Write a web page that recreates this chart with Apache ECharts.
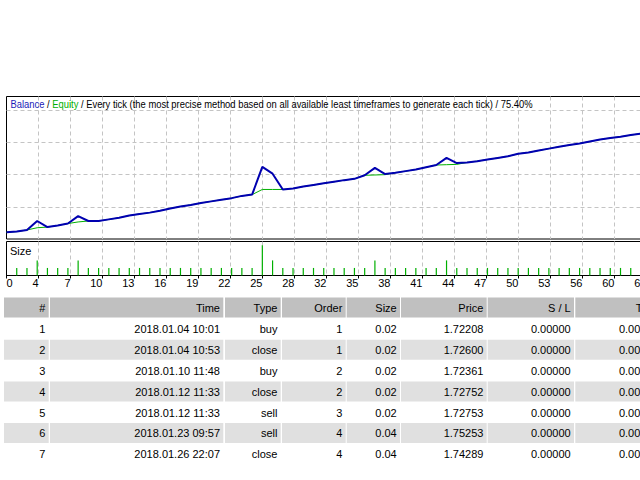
<!DOCTYPE html>
<html><head><meta charset="utf-8">
<script src="https://cdn.jsdelivr.net/npm/echarts@6/dist/echarts.min.js"></script>
<style>html,body{margin:0;padding:0;background:#fff}#c{width:640px;height:480px}</style>
</head><body><div id="c"></div>
<script>
// ---------- data ----------
const xTickLabels = ['0','4','7','10','13','16','19','22','25','28','32','35','38','41','44','47','50','53','56','60','63','66'];
// balance per trade index 0..62
const balance = [
  10021,10023,10028,10056,10037,10042,10048,10071,10056,10056,
  10061,10066,10073,10078,10082,10088,10095,10101,10106,10112,
  10117,10122,10127,10134,10138,10224,10203,10154,10157,10163,
  10168,10173,10178,10183,10187,10198,10221,10202,10206,10211,
  10216,10223,10230,10252,10236,10238,10242,10247,10252,10257,
  10265,10269,10275,10281,10287,10292,10297,10303,10309,10314,
  10318,10323,10328
];
// equity per trade index 0..62
const equity = [
  10021,10023,10028,10035,10037,10042,10048,10053,10056,10056,
  10061,10066,10073,10078,10082,10088,10095,10101,10106,10112,
  10117,10122,10127,10134,10138,10154,10154,10154,10157,10163,
  10168,10173,10178,10183,10187,10198,10199,10200,10206,10211,
  10216,10223,10230,10231,10232,10238,10242,10247,10252,10257,
  10265,10269,10275,10281,10287,10292,10297,10303,10309,10314,
  10318,10323,10328
];
// lot size per trade index 1..61
const tradeSizes = [
  0.02,0.02,0.04,0.02,0.02,0.02,0.04,0.02,0.02,0.02,
  0.02,0.02,0.02,0.02,0.02,0.02,0.02,0.02,0.02,0.02,
  0.02,0.02,0.02,0.02,0.08,0.04,0.02,0.02,0.02,0.02,
  0.02,0.02,0.02,0.02,0.02,0.04,0.02,0.02,0.02,0.02,
  0.02,0.02,0.04,0.02,0.02,0.02,0.02,0.02,0.02,0.02,
  0.02,0.02,0.02,0.02,0.02,0.02,0.02,0.02,0.02,0.02,
  0.02
];
const tableHeaders = ['#','Time','Type','Order','Size','Price','S / L','T / P'];
const dealNo = [1,2,3,4,5,6,7];
const dealTime = ['2018.01.04 10:01','2018.01.04 10:53','2018.01.10 11:48','2018.01.12 11:33','2018.01.12 11:33','2018.01.23 09:57','2018.01.26 22:07'];
const dealType = ['buy','close','buy','close','sell','sell','close'];
const dealOrder = [1,1,2,2,3,4,4];
const dealSize = ['0.02','0.02','0.02','0.02','0.02','0.04','0.04'];
const dealPrice = ['1.72208','1.72600','1.72361','1.72752','1.72753','1.75253','1.74289'];
const dealSL = ['0.00000','0.00000','0.00000','0.00000','0.00000','0.00000','0.00000'];
const dealTP = ['0.00000','0.00000','0.00000','0.00000','0.00000','0.00000','0.00000'];
const titleText = '{b|Balance} / {g|Equity} / Every tick (the most precise method based on all available least timeframes to generate each tick) / 75.40%';

// ---------- layout ----------
const FONT = '"Liberation Sans", Arial, sans-serif';
const X_INTERVAL = 3.127;
const PX_PER_TRADE = 32 / X_INTERVAL;
const GRID_LEFT = 6.5, PLOT_W = 680;
const xMax = PLOT_W / PX_PER_TRADE;
const BLUE = '#0000B0', GREEN = '#00B000';
const dash = {color: '#c4c4c4', width: 1, type: [4, 3]};

const colStart = [4, 50, 225, 282, 346.7, 401, 487.7, 575.3];
const colEnd   = [48.7, 223.3, 280.7, 345.7, 400, 486.7, 574, 662];
const HEADER_TOP = 297.5, ROW_TOP = 319, ROW_PITCH = 20.8, ROW_H = 20;

const graphics = [];
function cellText(txt, c, yMid) {
  graphics.push({type: 'text', x: colEnd[c] - 3.3, y: yMid, silent: true,
    style: {text: txt, fill: '#000', font: '11px ' + FONT,
      align: 'right', textAlign: 'right', verticalAlign: 'middle', textVerticalAlign: 'middle'}});
}
function cellRect(c, top, color) {
  graphics.push({type: 'rect', silent: true,
    shape: {x: colStart[c], y: top, width: colEnd[c] - colStart[c], height: ROW_H},
    style: {fill: color}});
}
tableHeaders.forEach((h, c) => { cellRect(c, HEADER_TOP, '#c0c0c0'); cellText(h, c, HEADER_TOP + 10.5); });
dealNo.forEach((n, r) => {
  const top = ROW_TOP + r * ROW_PITCH;
  const vals = [String(n), dealTime[r], dealType[r], String(dealOrder[r]), dealSize[r], dealPrice[r], dealSL[r], dealTP[r]];
  vals.forEach((v, c) => { if (r % 2 === 1) cellRect(c, top, '#e0e0e0'); cellText(v, c, top + 10.3); });
});
graphics.push({type: 'text', x: 10, y: 250.5, silent: true,
  style: {text: 'Size', fill: '#000', font: '11px ' + FONT, verticalAlign: 'middle', textVerticalAlign: 'middle'}});
// chart caption (Tahoma-like narrow set width)
graphics.push({type: 'text', x: 10.5, y: 104.5, scaleX: 0.855, silent: true, z: 10,
  style: {text: titleText, fill: '#000', font: '11px ' + FONT,
    verticalAlign: 'middle', textVerticalAlign: 'middle',
    rich: {b: {fill: '#1a1ab8', font: '11px ' + FONT}, g: {fill: '#00b000', font: '11px ' + FONT}}}});

const chart = echarts.init(document.getElementById('c'), null, {renderer: 'svg'});
chart.setOption({
  animation: false,
  backgroundColor: '#fff',
  grid: [
    {left: GRID_LEFT, width: PLOT_W, top: 96.5, height: 142.5, show: true, borderColor: '#000', borderWidth: 1,
     containLabel: false, outerBoundsMode: 'none'},
    {left: GRID_LEFT, width: PLOT_W, top: 241.5, height: 34, show: true, borderColor: '#000', borderWidth: 1,
     containLabel: false, outerBoundsMode: 'none'}
  ],
  xAxis: [
    {type: 'value', gridIndex: 0, min: 0, max: xMax, interval: X_INTERVAL,
     axisLine: {show: false}, axisTick: {show: false}, axisLabel: {show: false},
     splitLine: {show: true, showMinLine: false, showMaxLine: false, lineStyle: dash}},
    {type: 'value', gridIndex: 1, min: 0, max: xMax, interval: X_INTERVAL,
     axisLine: {show: true, onZero: false, lineStyle: {color: '#000', width: 1}},
     axisTick: {show: true, length: 3, lineStyle: {color: '#000'}},
     axisLabel: {show: true, margin: 2, color: '#000', fontSize: 11, fontFamily: FONT,
       align: 'right', alignMinLabel: 'left', showMaxLabel: false, hideOverlap: false,
       formatter: v => { const k = Math.round(v / X_INTERVAL); return xTickLabels[k] !== undefined ? xTickLabels[k] : ''; }},
     splitLine: {show: true, showMinLine: false, showMaxLine: false, lineStyle: dash}}
  ],
  yAxis: [
    {type: 'value', gridIndex: 0, min: 10000, max: 10443, interval: 100,
     axisLine: {show: false}, axisTick: {show: false}, axisLabel: {show: false},
     splitLine: {show: true, showMinLine: false, showMaxLine: false, lineStyle: dash}},
    {type: 'value', gridIndex: 1, min: 0, max: 0.09,
     axisLine: {show: false}, axisTick: {show: false}, axisLabel: {show: false},
     splitLine: {show: false}}
  ],
  series: [
    {type: 'line', name: 'Equity', xAxisIndex: 0, yAxisIndex: 0, data: equity.map((v, i) => [i, v]),
     symbol: 'none', lineStyle: {color: GREEN, width: 1}, z: 2},
    {type: 'line', name: 'Balance', xAxisIndex: 0, yAxisIndex: 0, data: balance.map((v, i) => [i, v]),
     symbol: 'none', lineStyle: {color: BLUE, width: 2}, z: 3},
    {type: 'bar', name: 'Size', xAxisIndex: 1, yAxisIndex: 1, data: tradeSizes.map((v, i) => [i + 1, v]),
     barWidth: 1.2, itemStyle: {color: GREEN}, z: 2}
  ],
  graphic: graphics
});
</script></body></html>
